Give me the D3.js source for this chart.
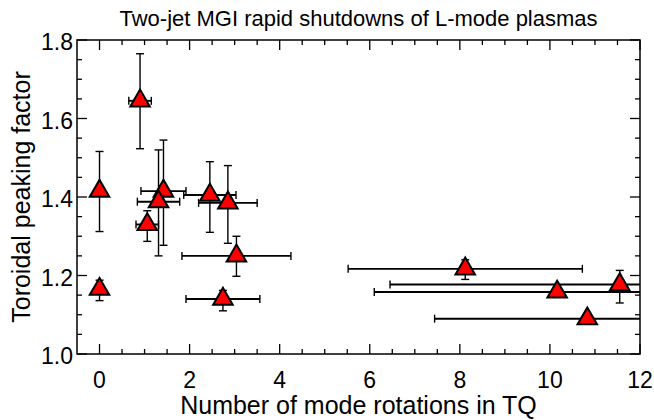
<!DOCTYPE html>
<html>
<head>
<meta charset="utf-8">
<script src="https://cdn.jsdelivr.net/npm/d3@7"></script>
<style>
  body { margin: 0; background: #fff; }
  text { font-family: "Liberation Sans", Arial, sans-serif; fill: #000; }
</style>
</head>
<body>
<div id="chart"></div>
<script>
const margin = {top: 40, right: 14, bottom: 66, left: 77},
    width = 654 - margin.left - margin.right,
    height = 420 - margin.top - margin.bottom;

// rotations in TQ, peaking factor, and their error bars
const rotations = [0, 0.9, 1.42, 1.31, 2.45, 2.85, 1.06, 3.04, 0, 2.74, 8.12, 10.16, 11.55, 10.83];
const peaking   = [1.415, 1.645, 1.415, 1.388, 1.405, 1.385, 1.33, 1.25, 1.165, 1.14, 1.217, 1.158, 1.177, 1.09];
const rotErr    = [0, 0.25, 0.5, 0.47, 0.58, 0.65, 0.25, 1.21, 0, 0.82, 2.6, 4.06, 5.1, 3.39];
const peakLow   = [1.312, 1.523, 1.277, 1.25, 1.31, 1.282, 1.287, 1.198, 1.136, 1.11, 1.19, 1.15, 1.13, 1.085];
const peakHigh  = [1.516, 1.765, 1.545, 1.52, 1.49, 1.48, 1.365, 1.30, 1.188, 1.162, 1.24, 1.165, 1.213, 1.095];

const xTicks = [0, 2, 4, 6, 8, 10, 12];
const yTicks = [1.0, 1.2, 1.4, 1.6, 1.8];

const data = rotations.map((r, i) => ({
    x: r, y: peaking[i], xe: rotErr[i], ylo: peakLow[i], yhi: peakHigh[i]
}));

const svg = d3.select("#chart")
    .append("svg")
    .attr("width", width + margin.left + margin.right)
    .attr("height", height + margin.top + margin.bottom)
    .append("g")
    .attr("transform", `translate(${margin.left}, ${margin.top})`);

const x = d3.scaleLinear().domain([-0.5, 12]).range([0, width]);
const y = d3.scaleLinear().domain([1.0, 1.8]).range([height, 0]);

// clip so long error bars stop at the frame
svg.append("clipPath").attr("id", "clip")
    .append("rect").attr("width", width).attr("height", height);

// ticks pointing inward on every side (minor every 0.5 / 0.05)
const xMinor = d3.range(0, 12.01, 0.5);
const yMinor = d3.range(1.0, 1.801, 0.05);

function xAxis(g, bottom) {
    g.selectAll("line").data(xMinor).enter().append("line")
        .attr("x1", d => x(d)).attr("x2", d => x(d))
        .attr("y1", bottom ? height : 0)
        .attr("y2", d => {
            const len = (Math.abs(d % 2) < 1e-6) ? 10 : 5;
            return bottom ? height - len : len;
        })
        .style("stroke", "#000").style("stroke-width", 1.3);
}
function yAxis(g, left) {
    g.selectAll("line").data(yMinor).enter().append("line")
        .attr("y1", d => y(d)).attr("y2", d => y(d))
        .attr("x1", left ? 0 : width)
        .attr("x2", d => {
            const major = Math.abs(Math.round(d * 100) % 20) === 0;
            const len = major ? 10 : 5;
            return left ? len : width - len;
        })
        .style("stroke", "#000").style("stroke-width", 1.3);
}
xAxis(svg.append("g"), true);
xAxis(svg.append("g"), false);
yAxis(svg.append("g"), true);
yAxis(svg.append("g"), false);

svg.append("rect")
    .attr("width", width).attr("height", height)
    .style("fill", "none").style("stroke", "#000").style("stroke-width", 1.5);

// tick labels
svg.append("g").selectAll("text")
    .data(xTicks).enter().append("text")
    .attr("x", d => x(d))
    .attr("y", height + 34)
    .attr("text-anchor", "middle")
    .style("font-size", "23px")
    .text(d => d);

svg.append("g").selectAll("text")
    .data(yTicks).enter().append("text")
    .attr("x", -4)
    .attr("y", d => y(d) + 10)
    .attr("text-anchor", "end")
    .style("font-size", "23px")
    .text(d => d.toFixed(1));

// error bars
const bars = svg.append("g").attr("clip-path", "url(#clip)")
    .style("stroke", "#000").style("stroke-width", 1.4);
const cap = 4;

data.forEach(d => {
    // vertical
    bars.append("line")
        .attr("x1", x(d.x)).attr("x2", x(d.x))
        .attr("y1", y(d.ylo)).attr("y2", y(d.yhi));
    [d.ylo, d.yhi].forEach(v => {
        bars.append("line")
            .attr("x1", x(d.x) - cap).attr("x2", x(d.x) + cap)
            .attr("y1", y(v)).attr("y2", y(v));
    });
    // horizontal
    if (d.xe > 0) {
        bars.append("line")
            .attr("x1", x(d.x - d.xe)).attr("x2", x(d.x + d.xe))
            .attr("y1", y(d.y)).attr("y2", y(d.y))
            .style("stroke-width", 1.9);
        [d.x - d.xe, d.x + d.xe].forEach(v => {
            bars.append("line")
                .attr("x1", x(v)).attr("x2", x(v))
                .attr("y1", y(d.y) - cap).attr("y2", y(d.y) + cap);
        });
    }
});

// triangles
svg.append("g").selectAll("path")
    .data(data).enter().append("path")
    .attr("d", d3.symbol().type(d3.symbolTriangle).size(165))
    .attr("transform", d => `translate(${x(d.x)}, ${y(d.y)})`)
    .style("fill", "#ff0000")
    .style("stroke", "#000")
    .style("stroke-width", 2);

// title and axis labels
svg.append("text")
    .attr("x", width / 2)
    .attr("y", -14)
    .attr("text-anchor", "middle")
    .style("font-size", "22px")
    .text("Two-jet MGI rapid shutdowns of L-mode plasmas");

svg.append("text")
    .attr("x", width / 2)
    .attr("y", height + 60)
    .attr("text-anchor", "middle")
    .style("font-size", "25px")
    .text("Number of mode rotations in TQ");

svg.append("text")
    .attr("transform", "rotate(-90)")
    .attr("x", -height / 2)
    .attr("y", -47)
    .attr("text-anchor", "middle")
    .style("font-size", "25px")
    .text("Toroidal peaking factor");
</script>
</body>
</html>
